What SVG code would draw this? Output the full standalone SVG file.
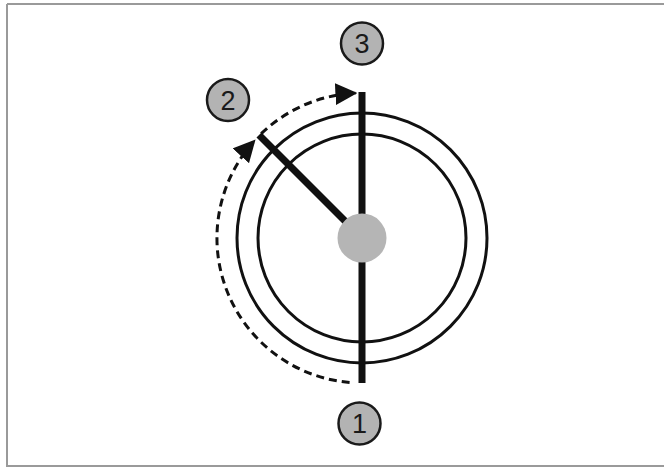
<svg xmlns="http://www.w3.org/2000/svg" width="664" height="467" viewBox="0 0 664 467">
<style>
.ring{fill:none;stroke:#111;stroke-width:3}
.bar{stroke:#111;stroke-width:7;stroke-linecap:butt}
.dash{fill:none;stroke:#111;stroke-width:3;stroke-dasharray:8 5}
.badge circle{fill:#b3b3b3;stroke:#1a1a1a;stroke-width:2.5}
.badge text{font-family:"Liberation Sans","DejaVu Sans",sans-serif;font-size:27px;fill:#1a1a1a;text-anchor:middle}
.frame{stroke:#9a9a9a;stroke-width:2;fill:none}
</style>
<defs>
<marker id="ah" viewBox="0 0 22 22" refX="20" refY="11" markerWidth="22" markerHeight="22" markerUnits="userSpaceOnUse" orient="auto">
<path d="M0,0 L22,11 L0,22 Z" fill="#111"/>
</marker>
</defs>
<rect width="664" height="467" fill="#fff"/>
<g id="frame">
<path class="frame" d="M7,4 H664 M7,4 V466 H664"/>
</g>
<g id="wheel">
<circle class="ring" cx="362" cy="238" r="125"/>
<circle class="ring" cx="362" cy="238" r="104"/>
<line class="bar" x1="362" y1="92" x2="362" y2="383"/>
<line class="bar" x1="362" y1="238" x2="259" y2="135"/>
<circle cx="362" cy="238" r="24.5" fill="#b5b5b5"/>
</g>
<g id="connectors">
<path class="dash" marker-end="url(#ah)" d="M349.6,382.5 A145,145 0 0 1 254.2,141"/>
<path class="dash" marker-end="url(#ah)" d="M261.2,133.7 A145,145 0 0 1 355.4,93.2"/>
</g>
<g id="n1" class="badge"><circle cx="359.5" cy="423.5" r="21"/><text x="359.5" y="433">1</text></g>
<g id="n2" class="badge"><circle cx="228" cy="100" r="21"/><text x="228" y="109.5">2</text></g>
<g id="n3" class="badge"><circle cx="362" cy="43.5" r="21"/><text x="362" y="53">3</text></g>
</svg>
